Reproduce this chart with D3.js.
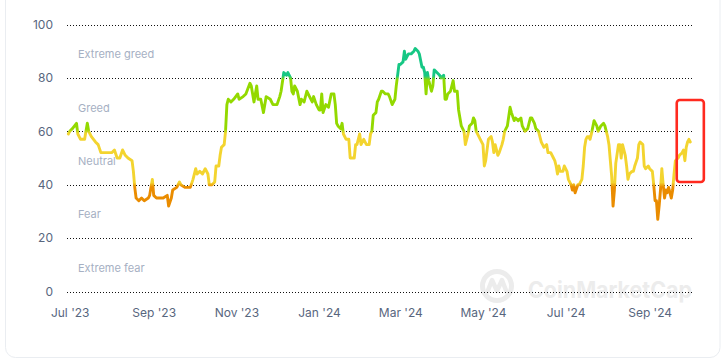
<!DOCTYPE html>
<html>
<head>
<meta charset="utf-8">
<script src="https://cdn.jsdelivr.net/npm/d3@7"></script>
<style>
  html, body { margin: 0; padding: 0; background: #ffffff; }
  svg { display: block; font-family: Inter, "Noto Sans", sans-serif; }
</style>
</head>
<body>
<svg id="chart" width="726" height="361"></svg>
<script>
// ---------- data ----------
const dates = [
"2023-06-30","2023-07-01","2023-07-03","2023-07-06","2023-07-07","2023-07-09","2023-07-10","2023-07-12","2023-07-14","2023-07-15",
"2023-07-17","2023-07-20","2023-07-22","2023-07-24","2023-07-26","2023-07-28","2023-08-01","2023-08-03","2023-08-05","2023-08-07",
"2023-08-09","2023-08-11","2023-08-13","2023-08-16","2023-08-17","2023-08-18","2023-08-19","2023-08-21","2023-08-23","2023-08-25",
"2023-08-28","2023-08-29","2023-08-31","2023-09-01","2023-09-03","2023-09-06","2023-09-08","2023-09-11","2023-09-12","2023-09-14",
"2023-09-15","2023-09-18","2023-09-20","2023-09-21","2023-09-24","2023-09-26","2023-09-28","2023-09-30","2023-10-02","2023-10-03",
"2023-10-05","2023-10-07","2023-10-09","2023-10-11","2023-10-12","2023-10-14","2023-10-16","2023-10-17","2023-10-19","2023-10-20",
"2023-10-21","2023-10-23","2023-10-24","2023-10-25","2023-10-26","2023-10-28","2023-10-30","2023-11-02","2023-11-03","2023-11-06",
"2023-11-08","2023-11-11","2023-11-12","2023-11-14","2023-11-16","2023-11-17","2023-11-19","2023-11-21","2023-11-23","2023-11-26",
"2023-11-28","2023-12-01","2023-12-03","2023-12-04","2023-12-06","2023-12-08","2023-12-09","2023-12-11","2023-12-12","2023-12-13",
"2023-12-14","2023-12-16","2023-12-18","2023-12-19","2023-12-21","2023-12-23","2023-12-25","2023-12-27","2023-12-28","2023-12-30",
"2024-01-01","2024-01-02","2024-01-03","2024-01-04","2024-01-06","2024-01-08","2024-01-10","2024-01-12","2024-01-13","2024-01-14",
"2024-01-15","2024-01-17","2024-01-18","2024-01-19","2024-01-21","2024-01-23","2024-01-24","2024-01-26","2024-01-27","2024-01-28",
"2024-01-29","2024-01-31","2024-02-01","2024-02-03","2024-02-05","2024-02-07","2024-02-08","2024-02-09","2024-02-10","2024-02-12",
"2024-02-13","2024-02-14","2024-02-16","2024-02-17","2024-02-19","2024-02-21","2024-02-22","2024-02-24","2024-02-26","2024-02-27",
"2024-02-29","2024-03-01","2024-03-03","2024-03-04","2024-03-05","2024-03-07","2024-03-09","2024-03-11","2024-03-12","2024-03-14",
"2024-03-15","2024-03-17","2024-03-18","2024-03-19","2024-03-20","2024-03-21","2024-03-22","2024-03-24","2024-03-25","2024-03-26",
"2024-03-28","2024-03-30","2024-03-31","2024-04-02","2024-04-03","2024-04-04","2024-04-05","2024-04-07","2024-04-09","2024-04-10",
"2024-04-12","2024-04-13","2024-04-15","2024-04-16","2024-04-17","2024-04-18","2024-04-20","2024-04-21","2024-04-23","2024-04-24",
"2024-04-25","2024-04-26","2024-04-28","2024-04-29","2024-05-01","2024-05-02","2024-05-03","2024-05-05","2024-05-07","2024-05-08",
"2024-05-09","2024-05-10","2024-05-12","2024-05-13","2024-05-15","2024-05-16","2024-05-17","2024-05-19","2024-05-21","2024-05-22",
"2024-05-24","2024-05-25","2024-05-27","2024-05-29","2024-05-30","2024-06-01","2024-06-03","2024-06-05","2024-06-06","2024-06-08",
"2024-06-09","2024-06-11","2024-06-13","2024-06-14","2024-06-15","2024-06-17","2024-06-18","2024-06-20","2024-06-22","2024-06-23",
"2024-06-24","2024-06-25","2024-06-26","2024-06-27","2024-06-29","2024-06-30","2024-07-02","2024-07-03","2024-07-05","2024-07-06",
"2024-07-07","2024-07-08","2024-07-10","2024-07-11","2024-07-13","2024-07-14","2024-07-15","2024-07-16","2024-07-17","2024-07-18",
"2024-07-19","2024-07-20","2024-07-22","2024-07-24","2024-07-25","2024-07-27","2024-07-29","2024-07-30","2024-07-31","2024-08-01",
"2024-08-02","2024-08-03","2024-08-04","2024-08-05","2024-08-06","2024-08-07","2024-08-09","2024-08-10","2024-08-11","2024-08-12",
"2024-08-14","2024-08-15","2024-08-16","2024-08-17","2024-08-19","2024-08-20","2024-08-21","2024-08-23","2024-08-24","2024-08-25",
"2024-08-27","2024-08-28","2024-08-29","2024-08-31","2024-09-01","2024-09-03","2024-09-04","2024-09-05","2024-09-06","2024-09-07",
"2024-09-08","2024-09-09","2024-09-10","2024-09-11","2024-09-12","2024-09-13","2024-09-14","2024-09-15","2024-09-17","2024-09-18",
"2024-09-19","2024-09-20","2024-09-22","2024-09-23","2024-09-25","2024-09-26","2024-09-27","2024-09-28","2024-09-29","2024-09-30",
"2024-10-01"
];
const values = [
59,60,61,63,59,57,57,57,63,60,
58,56,55,52,52,52,52,53,50,50,
53,51,50,49,45,39,35,34,35,34,
35,36,42,36,35,35,35,36,32,35,
38,39,41,40,39,39,39,42,46,44,
45,44,46,44,40,40,41,47,47,51,
54,55,60,70,72,71,72,74,72,73,
74,78,77,71,77,72,72,67,73,72,
70,70,73,75,82,81,82,80,75,74,
77,75,70,72,71,75,73,71,73,70,
68,68,74,67,70,69,74,74,70,63,
62,61,63,59,57,57,50,50,50,55,
55,59,55,57,55,55,59,60,66,67,
71,72,75,75,74,74,73,70,72,77,
85,85,86,90,87,89,89,90,91,90,
89,84,84,82,74,82,79,75,77,83,
82,81,80,81,72,72,74,75,79,75,
75,68,62,61,60,55,59,62,63,65,
64,60,58,57,55,47,49,57,58,56,
52,55,51,52,55,57,60,62,69,67,
64,65,64,65,62,60,61,65,65,63,
61,60,56,55,54,55,52,52,50,49,
47,44,47,45,45,47,45,42,40,38,
40,37,40,40,42,47,54,57,58,58,
57,59,64,62,60,62,63,62,60,58,
55,49,43,32,38,48,55,55,50,55,
51,47,42,44,45,45,47,50,55,56,
55,47,46,47,46,45,40,34,34,27,
32,38,46,40,35,38,37,39,35,38,
44,49,50,51,52,53,49,54,56,57,
56
];
const yTicks = [0, 20, 40, 60, 80, 100];
const zoneLabels = ["Extreme fear", "Fear", "Neutral", "Greed", "Extreme greed"];
const zoneMid = [10, 30, 50, 70, 90];
const zoneColors = ["#ea3943", "#ea8c00", "#f3d42f", "#93d900", "#16c784"];
const zoneBreaks = [20, 40, 60, 80];
const highlightDates = ["2024-09-21", "2024-10-11"];
const highlightValues = [71.7, 41];

// ---------- layout ----------
const svg = d3.select("#chart");
const parse = d3.utcParse("%Y-%m-%d");
const data = dates.map((d, i) => ({ date: parse(d), value: values[i] }));

const x = d3.scaleUtc()
  .domain([parse("2023-06-29"), parse("2024-10-03")])
  .range([67, 693]);
const y = d3.scaleLinear().domain([0, 100]).range([291.5, 24.5]);

// card
svg.append("rect")
  .attr("x", 5.5).attr("y", -12).attr("width", 714.5).attr("height", 369.5)
  .attr("rx", 10).attr("fill", "#ffffff")
  .attr("stroke", "#eaedf1").attr("stroke-width", 1);

// watermark
const wm = svg.append("g").attr("fill", "none");
wm.append("circle").attr("cx", 497).attr("cy", 286).attr("r", 14.5)
  .attr("stroke", "#ececec").attr("stroke-width", 5);
wm.append("path")
  .attr("d", "M487,293 L492,280 L497,291 L502,280 L507,293")
  .attr("stroke", "#ececec").attr("stroke-width", 4.5).attr("stroke-linejoin", "round");
svg.append("text")
  .attr("x", 528).attr("y", 298)
  .attr("font-size", 23).attr("font-weight", 700)
  .attr("fill", "#ececec")
  .attr("textLength", 164).attr("lengthAdjust", "spacingAndGlyphs")
  .text("CoinMarketCap");

// grid lines (dotted)
svg.append("g").selectAll("line").data(yTicks).join("line")
  .attr("x1", 67).attr("x2", 694)
  .attr("y1", d => Math.round(y(d)) + 0.5).attr("y2", d => Math.round(y(d)) + 0.5)
  .attr("stroke", "#111111").attr("stroke-width", 1)
  .attr("stroke-dasharray", "1,2");

// y axis labels
const yAxis = svg.append("g").attr("transform", "translate(57,0)")
  .call(d3.axisLeft(y).tickValues(yTicks).tickSize(0).tickPadding(4));
yAxis.select(".domain").remove();
yAxis.selectAll("text")
  .attr("font-family", "Inter, 'Noto Sans', sans-serif")
  .attr("font-size", 12).attr("fill", "#58667e");

// x axis labels
const xAxis = svg.append("g").attr("transform", "translate(0,305)")
  .call(d3.axisBottom(x)
    .ticks(d3.utcMonth.every(2))
    .tickFormat(d3.utcFormat("%b '%y"))
    .tickSize(0).tickPadding(3));
xAxis.select(".domain").remove();
xAxis.selectAll("text")
  .attr("font-family", "Inter, 'Noto Sans', sans-serif")
  .attr("font-size", 12).attr("fill", "#58667e");

// zone labels
svg.append("g").selectAll("text").data(zoneLabels).join("text")
  .attr("x", 78)
  .attr("y", (d, i) => y(zoneMid[i]) + 3)
  .attr("dominant-baseline", "central")
  .attr("font-size", 11).attr("fill", "#a6b0c3")
  .text(d => d);

// gradient for line by value
const defs = svg.append("defs");
const grad = defs.append("linearGradient")
  .attr("id", "fgGrad")
  .attr("gradientUnits", "userSpaceOnUse")
  .attr("x1", 0).attr("x2", 0)
  .attr("y1", y(0)).attr("y2", y(100));
const stops = [];
zoneColors.forEach((c, i) => {
  const lo = i === 0 ? 0 : zoneBreaks[i - 1] + 0.8;
  const hi = i === zoneColors.length - 1 ? 100 : zoneBreaks[i] - 0.8;
  stops.push({ off: lo / 100, c });
  stops.push({ off: hi / 100, c });
});
grad.selectAll("stop").data(stops).join("stop")
  .attr("offset", d => d.off)
  .attr("stop-color", d => d.c);

// line
const line = d3.line()
  .x(d => x(d.date))
  .y(d => y(d.value))
  .curve(d3.curveLinear);
svg.append("path")
  .datum(data)
  .attr("d", line)
  .attr("fill", "none")
  .attr("stroke", "url(#fgGrad)")
  .attr("stroke-width", 2.9)
  .attr("stroke-linejoin", "round")
  .attr("stroke-linecap", "round");

// highlight box (annotation)
const hx0 = x(parse(highlightDates[0])), hx1 = x(parse(highlightDates[1]));
const hy0 = y(highlightValues[0]), hy1 = y(highlightValues[1]);
svg.append("rect")
  .attr("x", hx0).attr("y", hy0)
  .attr("width", hx1 - hx0).attr("height", hy1 - hy0)
  .attr("rx", 3)
  .attr("fill", "none")
  .attr("stroke", "#ff2a1f").attr("stroke-width", 2.6);
</script>
</body>
</html>
